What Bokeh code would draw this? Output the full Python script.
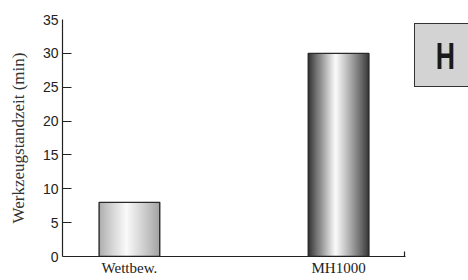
from bokeh.plotting import figure
from bokeh.models import Range1d, FixedTicker, ColumnDataSource, Div
from bokeh.layouts import row
from bokeh.embed import file_html
from bokeh.resources import INLINE

# ---- data ----
categories = ["Wettbew.", "MH1000"]
values = [8, 30]
y_ticks = [0, 5, 10, 15, 20, 25, 30, 35]
y_label = "Werkzeugstandzeit (min)"
badge_text = "H"

# ---- style ----
bar_width = 0.29
# gradient profiles: (left edge grey, peak grey, right edge grey)
profiles = [(168, 250, 160), (38, 252, 52)]
peak_pos = 0.45
n_strips = 60

p = figure(width=410, height=278, output_backend="svg", toolbar_location=None,
           x_range=Range1d(0.18, 1.82), y_range=Range1d(0, 35),
           min_border_left=62, min_border_right=5, min_border_top=19, min_border_bottom=21)
p.outline_line_color = None
p.xgrid.grid_line_color = None
p.ygrid.grid_line_color = None
p.background_fill_color = "white"

xs = [i + 0.5 for i in range(len(categories))]

def grey(v):
    v = int(max(0, min(255, round(v))))
    return "#%02x%02x%02x" % (v, v, v)

for xc, val, (el, pk, er) in zip(xs, values, profiles):
    left0 = xc - bar_width / 2
    step = bar_width / n_strips
    lefts, rights, cols = [], [], []
    for k in range(n_strips):
        t = (k + 0.5) / n_strips
        if t < peak_pos:
            g = el + (pk - el) * (t / peak_pos) ** 0.9
        else:
            g = er + (pk - er) * ((1 - t) / (1 - peak_pos)) ** 0.9
        lefts.append(left0 + k * step)
        rights.append(min(left0 + bar_width, left0 + (k + 1) * step + step * 0.6))
        cols.append(grey(g))
    src = ColumnDataSource(dict(left=lefts, right=rights, top=[val] * n_strips,
                                bottom=[0] * n_strips, color=cols))
    p.quad(left="left", right="right", top="top", bottom="bottom", fill_color="color",
           line_color=None, source=src)
    p.quad(left=[left0], right=[left0 + bar_width], top=[val], bottom=[0],
           fill_color=None, line_color="#2a2a2a", line_width=1.4)

# x axis
xa = p.xaxis[0]
xa.ticker = FixedTicker(ticks=xs, minor_ticks=[1.815])
xa.major_label_overrides = {x: c for x, c in zip(xs, categories)}
xa.major_tick_in = 0
xa.major_tick_out = 0
xa.minor_tick_in = 5
xa.minor_tick_out = 0
xa.minor_tick_line_color = "#222222"
xa.minor_tick_line_width = 1.2
xa.axis_line_color = "#222222"
xa.axis_line_width = 1.2
xa.major_label_text_font = "Liberation Serif"
xa.major_label_text_font_size = "15px"
xa.major_label_text_color = "#222222"
xa.major_label_standoff = 3

# y axis
ya = p.yaxis[0]
ya.ticker = FixedTicker(ticks=y_ticks, minor_ticks=y_ticks[1:-1])
ya.major_tick_in = 0
ya.major_tick_out = 0
ya.minor_tick_in = 9
ya.minor_tick_out = 0
ya.minor_tick_line_color = "#222222"
ya.minor_tick_line_width = 1.2
ya.axis_line_color = "#222222"
ya.axis_line_width = 1.2
ya.major_label_text_font = "Liberation Sans"
ya.major_label_text_font_size = "14px"
ya.major_label_text_color = "#222222"
ya.major_label_standoff = 4
ya.axis_label = y_label
ya.axis_label_text_font = "Liberation Serif"
ya.axis_label_text_font_style = "normal"
ya.axis_label_text_font_size = "17px"
ya.axis_label_text_color = "#333333"
ya.axis_label_standoff = 12

# badge
badge = Div(width=58, height=100, text=(
    '<div style="margin-top:18px;margin-left:-1px;width:58px;height:64px;box-sizing:border-box;'
    'background:#d3d3d3;border:1.5px solid #333;display:flex;align-items:center;'
    'justify-content:center;font-family:\'Liberation Sans\',sans-serif;'
    'font-weight:bold;font-size:37px;color:#1a1a1a;padding-left:4px;padding-top:4px;">'
    '<span style="display:inline-block;transform:scaleX(0.72);">'
    + badge_text + '</span></div>'))

layout = row(p, badge, spacing=0)
open("out.html", "w").write(file_html(layout, INLINE))
